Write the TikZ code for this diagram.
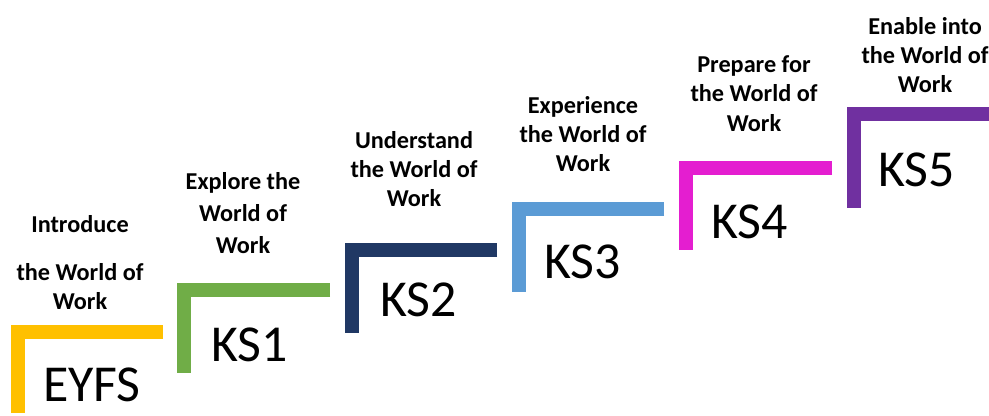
\documentclass[tikz,border=0pt]{standalone}
\usepackage{fontspec}
\setmainfont{Carlito}
\definecolor{eyfsYellow}{HTML}{FFC000}
\definecolor{ksGreen}{HTML}{70AD47}
\definecolor{ksNavy}{HTML}{203864}
\definecolor{ksBlue}{HTML}{5B9BD5}
\definecolor{ksMagenta}{HTML}{E41ED0}
\definecolor{ksPurple}{HTML}{7030A0}
\newcommand{\stageFont}{\fontsize{29.5}{34}\selectfont}
\newcommand{\aimFont}{\fontsize{13.8}{16.6}\selectfont\bfseries}

\begin{document}
\begin{tikzpicture}[every node/.style={rectangle, inner sep=0pt}, text centered, line width=.29cm, line join=miter,
	stage/.style={font=\stageFont, anchor=base west},
	aim/.style={font=\aimFont, align=center}]
	\useasboundingbox (0,0) rectangle (19.78,8.3);
	% steps
	\draw[eyfsYellow] (3.26,1.66) -- (0.36,1.66) -- (0.36,0.04);
	\draw[ksGreen] (6.60,2.50) -- (3.68,2.50) -- (3.68,0.84);
	\draw[ksNavy] (9.94,3.30) -- (7.04,3.30) -- (7.04,1.64);
	\draw[ksBlue] (13.28,4.12) -- (10.38,4.12) -- (10.38,2.46);
	\draw[ksMagenta] (16.64,4.94) -- (13.72,4.94) -- (13.72,3.30);
	\draw[ksPurple] (19.78,6.02) -- (17.08,6.02) -- (17.08,4.14);
	% key stages
	\node[stage] (eyfsText) at (0.72,0.28) {EYFS};
	\node[stage] (ksOneText) at (4.08,1.08) {KS1};
	\node[stage] (ksTwoText) at (7.46,1.98) {KS2};
	\node[stage] (ksThreeText) at (10.74,2.74) {KS3};
	\node[stage] (ksFourText) at (14.08,3.54) {KS4};
	\node[stage] (ksFiveText) at (17.42,4.58) {KS5};
	% aims
	\node[aim] (eyfsAim) at (1.60,3.05) {Introduce\\[0.38cm] the World of\\ Work};
	\node[aim] (ksOneAim) at (4.86,4.04) {Explore the\\[0.05cm] World of\\[0.05cm] Work};
	\node[aim] (ksTwoAim) at (8.28,4.92) {Understand\\ the World of\\ Work};
	\node[aim] (ksThreeAim) at (11.66,5.62) {Experience\\ the World of\\ Work};
	\node[aim] (ksFourAim) at (15.08,6.43) {Prepare for\\ the World of\\ Work};
	\node[aim] (ksFiveAim) at (18.50,7.20) {Enable into\\ the World of\\ Work};
\end{tikzpicture}
\end{document}
